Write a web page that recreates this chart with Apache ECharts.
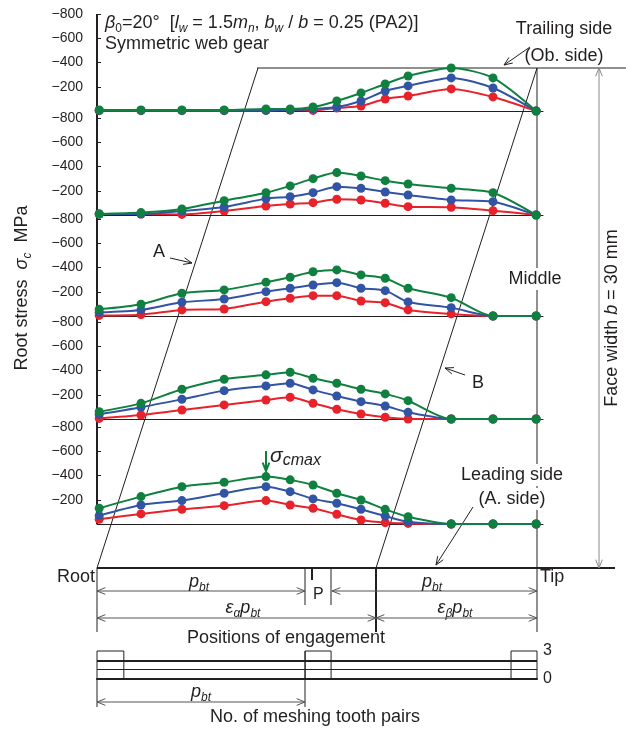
<!DOCTYPE html>
<html>
<head>
<meta charset="utf-8">
<script src="https://cdn.jsdelivr.net/npm/echarts@6/dist/echarts.min.js"></script>
<style>
  html, body { margin: 0; padding: 0; background: #fff; }
  #chart { width: 626px; height: 733px; }
</style>
</head>
<body>
<div id="chart"></div>
<script>
// positions of engagement, 0 = root, 1 = tip
const positions = [0.005, 0.1, 0.193, 0.289, 0.384, 0.439, 0.491, 0.545, 0.6, 0.655, 0.707, 0.805, 0.9, 0.998];

// root stress (MPa), five sections from trailing side (top) to leading side (bottom)
const trailingRed   = [-3, -3, -3, -3, -5, -8, -5, -25, -41, -99, -124, -182, -116, 0];
const trailingBlue  = [-5, -5, -5, -5, -5, -8, -17, -33, -83, -165, -207, -273, -190, 0];
const trailingGreen = [-8, -8, -8, -8, -17, -17, -33, -83, -149, -223, -289, -355, -273, 0];

const upperRed   = [-8, -8, -5, -33, -74, -91, -102, -130, -124, -97, -69, -64, -36, 0];
const upperBlue  = [-8, -8, -33, -66, -135, -151, -184, -234, -220, -190, -165, -124, -110, 0];
const upperGreen = [-8, -20, -50, -118, -184, -240, -300, -350, -322, -283, -256, -220, -184, 0];

const middleRed   = [-5, -11, -50, -58, -118, -146, -168, -168, -124, -110, -50, -17, 0, 0];
const middleBlue  = [-30, -50, -113, -140, -201, -229, -256, -275, -229, -209, -116, -69, 0, 0];
const middleGreen = [-55, -97, -188, -215, -279, -320, -365, -380, -339, -311, -229, -151, 0, 0];

const lowerRed   = [-5, -33, -74, -116, -157, -179, -130, -80, -41, -14, 0, 0, 0, 0];
const lowerBlue  = [-39, -97, -163, -234, -273, -295, -240, -190, -143, -107, -55, 0, 0, 0];
const lowerGreen = [-60, -129, -245, -328, -364, -386, -336, -295, -245, -207, -151, 0, 0, 0];

const leadingRed   = [-39, -83, -121, -151, -193, -157, -130, -80, -33, -11, -5, 0, 0, 0];
const leadingBlue  = [-69, -157, -193, -254, -308, -267, -207, -171, -121, -66, -19, 0, 0, 0];
const leadingGreen = [-130, -226, -308, -344, -391, -364, -322, -254, -198, -121, -60, 0, 0, 0];

const stressTicks = [-800, -600, -400, -200];

// number of meshing tooth pairs: 3 inside these zones, 2 elsewhere
const threePairZones = [[0, 0.061], [0.473, 0.532], [0.941, 1]];
const pairLevels = [2, 1];

const panels = [
  [trailingRed, trailingBlue, trailingGreen],
  [upperRed, upperBlue, upperGreen],
  [middleRed, middleBlue, middleGreen],
  [lowerRed, lowerBlue, lowerGreen],
  [leadingRed, leadingBlue, leadingGreen]
];

const FONT = '"Liberation Sans", Arial, sans-serif';
const INK = '#231f20';
const GREY = '#555555';
const colors = ['#e8222a', '#3154a4', '#0f803f'];
const panelTops = [14, 118, 219, 322, 427];

let chart = echarts.init(document.getElementById('chart'));

const grids = [], xAxes = [], yAxes = [], series = [];
panels.forEach((panel, i) => {
  grids.push({ left: 97, right: 83, top: panelTops[i], height: 97 });
  xAxes.push({
    gridIndex: i, type: 'value', min: 0, max: 1.0136, position: 'bottom',
    axisLine: { show: true, onZero: false, lineStyle: { color: INK, width: 1 } },
    axisTick: { show: false }, axisLabel: { show: false }, splitLine: { show: false }
  });
  yAxes.push({
    gridIndex: i, type: 'value', min: -800, max: 0, interval: 200, inverse: true,
    axisLine: { show: false },
    axisTick: { show: true, inside: true, length: 4, lineStyle: { color: INK } },
    axisLabel: {
      fontSize: 14, color: INK, fontFamily: FONT, margin: 14,
      formatter: v => stressTicks.includes(v) ? '\u2212' + Math.abs(v) : ''
    },
    splitLine: { show: false }
  });
  panel.forEach((vals, k) => {
    series.push({
      type: 'line', xAxisIndex: i, yAxisIndex: i, z: 3 + k,
      data: positions.map((x, j) => [x, vals[j]]),
      smooth: 0.25, symbol: 'circle', symbolSize: 9,
      lineStyle: { width: 2, color: colors[k] },
      itemStyle: { color: colors[k] }
    });
  });
});

// meshing tooth pairs strip
grids.push({ left: 97, right: 89, top: 651, height: 28 });
xAxes.push({
  gridIndex: 5, type: 'value', min: 0, max: 1,
  axisLine: { show: true, onZero: false, lineStyle: { color: INK, width: 2 } },
  axisTick: { show: false }, axisLabel: { show: false }, splitLine: { show: false }
});
yAxes.push({
  gridIndex: 5, type: 'value', min: 0, max: 3, interval: 3, position: 'right',
  axisLine: { show: false }, axisTick: { show: false }, splitLine: { show: false },
  axisLabel: { fontSize: 16, color: INK, fontFamily: FONT, margin: 6 }
});
series.push({
  type: 'custom', xAxisIndex: 5, yAxisIndex: 5, data: threePairZones,
  renderItem: (params, api) => {
    const a = api.coord([api.value(0), 3]);
    const b = api.coord([api.value(1), 0]);
    return { type: 'rect', shape: { x: a[0], y: a[1], width: b[0] - a[0], height: b[1] - a[1] },
      style: { fill: 'none', stroke: INK, lineWidth: 1 } };
  },
  markLine: {
    silent: true, symbol: 'none', label: { show: false },
    data: pairLevels.map((v, k) => ({ yAxis: v, lineStyle: { color: INK, width: k === 0 ? 2 : 1, type: 'solid' } }))
  }
});

function line(x1, y1, x2, y2, w, c) {
  return { type: 'line', shape: { x1, y1, x2, y2 }, style: { stroke: c || INK, lineWidth: w || 1 } };
}
function head(tx, ty, fx, fy, c, w) {
  const a = Math.atan2(fy - ty, fx - tx), L = 9, s = 0.38;
  return { type: 'polyline', shape: { points: [
    [tx + L * Math.cos(a + s), ty + L * Math.sin(a + s)], [tx, ty],
    [tx + L * Math.cos(a - s), ty + L * Math.sin(a - s)]] },
    style: { stroke: c || GREY, fill: 'none', lineWidth: w || 1 } };
}
function arrow(x1, y1, x2, y2, both, c, w) {
  const els = [line(x1, y1, x2, y2, w || 1, c || GREY), head(x2, y2, x1, y1, c, w)];
  if (both) els.push(head(x1, y1, x2, y2, c, w));
  return els;
}
function text(x, y, t, opt) {
  return Object.assign({ type: 'text', x, y, z: 10, style: Object.assign({
    text: t, fontSize: 18, fontFamily: FONT, fill: INK, align: 'left', verticalAlign: 'middle'
  }, opt || {}) });
}
const rich = {
  n: { fontSize: 18, fontFamily: FONT, fill: INK, lineHeight: 24 },
  i: { fontSize: 18, fontFamily: FONT, fill: INK, fontStyle: 'italic', lineHeight: 24 },
  s: { fontSize: 12, fontFamily: FONT, fill: INK, fontStyle: 'italic', lineHeight: 12, verticalAlign: 'bottom' },
  su: { fontSize: 12, fontFamily: FONT, fill: INK, lineHeight: 12, verticalAlign: 'bottom' }
};

const graphic = [
  line(97, 14, 97, 524, 2),
  line(257, 68, 626, 68),
  line(258, 68, 97, 568),
  line(537, 68, 376, 568),
  line(537, 68, 537, 632),
  line(97, 568, 615, 568, 2),
  line(97, 568, 97, 632),
  line(305, 568, 305, 605),
  line(331, 568, 331, 605),
  line(312, 568, 312, 580, 2),
  line(376, 568, 376, 632, 2),
  line(97, 679, 97, 707),
  line(305, 651, 305, 707),
  ...arrow(599, 68, 599, 568, true, '#888888'),
  ...arrow(530, 47, 504, 65, false, INK),
  ...arrow(170, 258, 192, 263, false, INK),
  ...arrow(465, 375, 445, 368, false, INK),
  ...arrow(473, 507, 436, 565, false, INK),
  ...arrow(266, 451, 266, 471, false, colors[2], 2),
  ...arrow(97, 591, 305, 591, true),
  ...arrow(332, 591, 537, 591, true),
  ...arrow(97, 618, 376, 618, true),
  ...arrow(376, 618, 537, 618, true),
  ...arrow(97, 702, 305, 702, true),

  text(105, 23, '{i|β}{su|0}{n|=20°  [}{i|l}{s|w}{n| = 1.5}{i|m}{s|n}{n|, }{i|b}{s|w}{n| / }{i|b}{n| = 0.25 (PA2)]}', { rich }),
  text(105, 44, 'Symmetric web gear'),
  { type: 'text', x: 22, y: 288, rotation: Math.PI / 2, z: 10, style: {
    text: '{n|Root stress  }{i|σ}{s|c}{n|  MPa}', rich, align: 'center', verticalAlign: 'middle' } },
  { type: 'text', x: 612, y: 318, rotation: Math.PI / 2, z: 10, style: {
    text: '{n|Face width }{i|b}{n| = 30 mm}', rich, align: 'center', verticalAlign: 'middle' } },
  text(564, 29, 'Trailing side', { align: 'center' }),
  text(564, 56, '(Ob. side)', { align: 'center' }),
  text(159, 252, 'A', { align: 'center' }),
  text(478, 383, 'B', { align: 'center' }),
  text(535, 279, 'Middle', { align: 'center', backgroundColor: '#fff', padding: [2, 2] }),
  text(512, 475, 'Leading side', { align: 'center', backgroundColor: '#fff', padding: [2, 2] }),
  text(512, 499, '(A. side)', { align: 'center', backgroundColor: '#fff', padding: [2, 2] }),
  text(270, 456, '{g|σ}{gs|cmax}', { rich: {
    g: { fontSize: 21, fontFamily: FONT, fill: INK, fontStyle: 'italic', lineHeight: 26 },
    gs: { fontSize: 16, fontFamily: FONT, fill: INK, fontStyle: 'italic', lineHeight: 16, verticalAlign: 'bottom' } } }),
  text(95, 577, 'Root', { align: 'right' }),
  text(540, 577, 'Tip'),
  text(313, 595, 'P', { fontSize: 16 }),
  text(199, 582, '{i|p}{s|bt}', { rich, align: 'center' }),
  text(432, 582, '{i|p}{s|bt}', { rich, align: 'center' }),
  text(243, 608, '{i|ε}{s|α}{i|p}{s|bt}', { rich, align: 'center' }),
  text(455, 608, '{i|ε}{s|β}{i|p}{s|bt}', { rich, align: 'center' }),
  text(286, 638, 'Positions of engagement', { align: 'center' }),
  text(201, 692, '{i|p}{s|bt}', { rich, align: 'center' }),
  text(315, 717, 'No. of meshing tooth pairs', { align: 'center' })
];

chart.setOption({
  animation: false,
  backgroundColor: '#fff',
  grid: grids,
  xAxis: xAxes,
  yAxis: yAxes,
  series: series,
  graphic: graphic
});
</script>
</body>
</html>
